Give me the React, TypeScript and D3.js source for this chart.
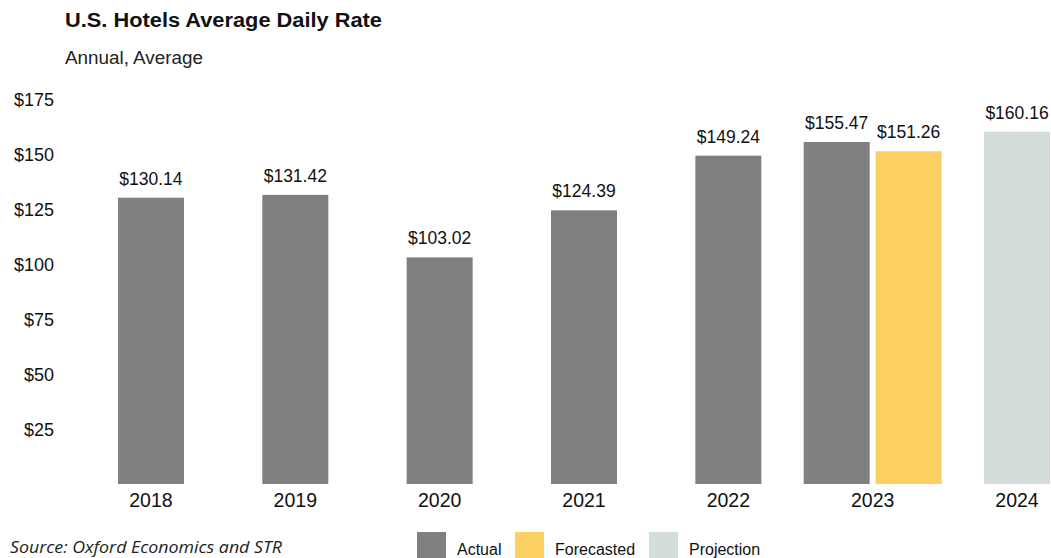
import React from "react";
import * as d3 from "d3";

const years = ["2018", "2019", "2020", "2021", "2022", "2023", "2024"];
const actual: (number | null)[] = [130.14, 131.42, 103.02, 124.39, 149.24, 155.47, null];
const forecasted: (number | null)[] = [null, null, null, null, null, 151.26, null];
const projection: (number | null)[] = [null, null, null, null, null, null, 160.16];
const yTicks = [25, 50, 75, 100, 125, 150, 175];
const seriesNames = ["Actual", "Forecasted", "Projection"];
const seriesColors = ["#808082", "#fdd064", "#d4dddb"];

export default function App() {
  const W = 1051, H = 558;
  const x = d3.scaleBand<string>().domain(years).range([78.8, 1089.2]).paddingInner(0).paddingOuter(0);
  const y = d3.scaleLinear().domain([0, 175]).range([484, 99]);
  const barW = 66, gap = 6;
  const fmt = (v: number) => "$" + d3.format(".2f")(v);
  const allSeries = [actual, forecasted, projection];

  const bars: { key: string; x: number; v: number; color: string }[] = [];
  years.forEach((yr, i) => {
    const present = allSeries
      .map((s, si) => ({ v: s[i], si }))
      .filter((d) => d.v != null) as { v: number; si: number }[];
    const total = present.length * barW + (present.length - 1) * gap;
    const cx = (x(yr) as number) + x.bandwidth() / 2;
    present.forEach((d, k) => {
      bars.push({ key: yr + d.si, x: cx - total / 2 + k * (barW + gap), v: d.v, color: seriesColors[d.si] });
    });
  });

  const font = "'Liberation Sans', Arial, sans-serif";
  const legendX = [417, 515, 649];

  return (
    <svg width={W} height={H} style={{ position: "absolute", left: 0, top: 0, background: "#fff" }} fontFamily={font}>
      <text x={65} y={27} fontSize={20} fontWeight="bold" fill="#111" textLength={317} lengthAdjust="spacingAndGlyphs">U.S. Hotels Average Daily Rate</text>
      <text x={65} y={64} fontSize={17.5} fill="#222" textLength={138} lengthAdjust="spacingAndGlyphs">Annual, Average</text>
      {yTicks.map((t) => (
        <text key={t} x={54} y={y(t) + 6.5} fontSize={18} textAnchor="end" fill="#111">${t}</text>
      ))}
      {bars.map((b) => (
        <g key={b.key}>
          <rect x={b.x} y={y(b.v)} width={barW} height={y(0) - y(b.v)} fill={b.color} />
          <text x={b.x + barW / 2} y={y(b.v) - 13} fontSize={17.5} textAnchor="middle" fill="#111">{fmt(b.v)}</text>
        </g>
      ))}
      {years.map((yr) => (
        <text key={yr} x={(x(yr) as number) + x.bandwidth() / 2} y={507} fontSize={19.5} textAnchor="middle" fill="#111">{yr}</text>
      ))}
      <text x={10} y={553} fontSize={16} fontStyle="italic" fill="#222" fontFamily="'Open Sans', sans-serif" textLength={272} lengthAdjust="spacingAndGlyphs">Source: Oxford Economics and STR</text>
      {seriesNames.map((n, i) => (
        <g key={n}>
          <rect x={legendX[i]} y={532} width={29} height={26} fill={seriesColors[i]} />
          <text x={legendX[i] + 40} y={555} fontSize={16} fill="#111">{n}</text>
        </g>
      ))}
    </svg>
  );
}
